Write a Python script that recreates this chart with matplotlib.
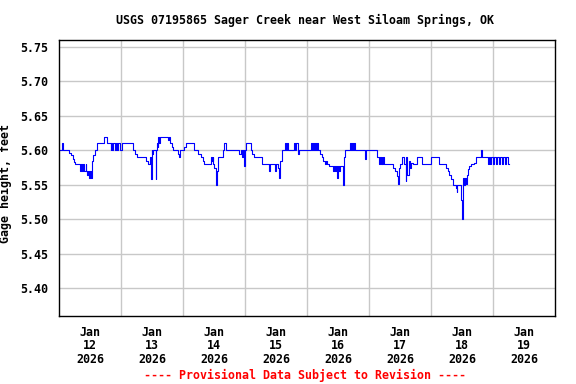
import matplotlib
matplotlib.use("Agg")
import matplotlib.pyplot as plt

# hours since Jan 12 2026 00:00, and gage height (ft) from that hour on (step data)
hours = [
    0.0, 1.3, 1.6, 4.0, 4.5, 5.3, 5.8, 6.2, 8.1, 8.5, 8.9, 9.4, 9.8, 10.3, 10.6,
    11.0, 11.4, 11.8, 12.1, 12.4, 12.8, 13.3, 13.8, 14.6, 17.5, 18.4, 20.0, 20.3,
    20.6, 21.0, 21.6, 22.0, 22.5, 23.0, 23.6, 24.5, 28.5, 29.5, 30.1, 33.7, 34.5,
    35.3, 35.6, 35.9, 36.1, 36.5, 37.4, 37.6, 37.9, 38.2, 38.4, 38.7, 39.0, 42.3,
    42.6, 43.0, 43.8, 44.2, 46.2, 46.5, 46.8, 48.5, 49.2, 52.1, 53.9, 55.0, 55.6,
    56.3, 58.8, 59.2, 59.5, 59.8, 60.1, 60.8, 61.2, 61.4, 63.4, 64.0, 64.7, 69.8,
    70.3, 70.8, 71.2, 71.6, 71.9, 72.4, 74.3, 74.9, 75.4, 78.6, 81.4, 81.8, 83.7,
    84.0, 84.6, 85.3, 85.6, 86.3, 87.5, 87.8, 88.2, 88.5, 91.1, 91.5, 91.8, 92.4,
    92.6, 93.0, 97.5, 97.9, 98.3, 98.7, 99.1, 99.6, 100.0, 100.4, 101.0, 101.7,
    102.3, 103.0, 103.4, 103.8, 104.6, 106.2, 106.5, 106.9, 107.3, 107.7, 108.0,
    108.4, 108.8, 110.0, 110.3, 110.7, 112.6, 113.0, 113.4, 113.8, 114.2, 114.6,
    118.3, 118.7, 123.2, 123.7, 124.1, 124.5, 124.9, 125.2, 125.6, 126.0, 129.4,
    130.1, 130.7, 131.3, 131.6, 132.0, 132.7, 133.7, 134.2, 134.5, 134.9, 135.3,
    135.7, 136.2, 137.2, 138.5, 140.4, 144.0, 147.2, 149.8, 150.5, 151.1, 151.8,
    152.4, 153.7, 154.1, 154.2, 155.6, 156.0, 156.3, 156.5, 156.8, 157.2, 157.6,
    157.8, 158.2, 158.8, 159.5, 160.5, 161.4, 163.4, 163.8, 166.0, 166.4, 166.9,
    167.3, 168.0, 168.3, 169.0, 169.4, 170.2, 170.6, 171.6, 172.0, 172.8, 173.2,
    173.8, 174.2,
]
gage_ft = [
    5.60, 5.61, 5.60, 5.596, 5.593, 5.588, 5.583, 5.58, 5.57, 5.58, 5.57, 5.58, 5.57, 5.58, 5.57,
    5.564, 5.57, 5.56, 5.57, 5.56, 5.585, 5.593, 5.60, 5.61, 5.62, 5.61, 5.60, 5.61,
    5.60, 5.61, 5.60, 5.61, 5.60, 5.61, 5.60, 5.61, 5.60, 5.595, 5.59, 5.585, 5.58,
    5.59, 5.558, 5.60, 5.595, 5.60, 5.558, 5.60, 5.61, 5.605, 5.62, 5.61, 5.62, 5.615,
    5.62, 5.61, 5.605, 5.60, 5.595, 5.59, 5.60, 5.605, 5.61, 5.60, 5.595, 5.59, 5.585,
    5.58, 5.59, 5.585, 5.59, 5.58, 5.575, 5.55, 5.57, 5.59, 5.60, 5.61, 5.60, 5.595,
    5.60, 5.59, 5.60, 5.578, 5.60, 5.61, 5.60, 5.595, 5.59, 5.58, 5.57, 5.58, 5.57,
    5.58, 5.575, 5.56, 5.585, 5.60, 5.61, 5.60, 5.61, 5.60, 5.61, 5.60, 5.61, 5.60,
    5.595, 5.60, 5.61, 5.60, 5.61, 5.60, 5.61, 5.60, 5.61, 5.60, 5.595, 5.59,
    5.585, 5.58, 5.585, 5.58, 5.578, 5.57, 5.578, 5.57, 5.578, 5.56, 5.578,
    5.57, 5.578, 5.55, 5.59, 5.60, 5.61, 5.60, 5.61, 5.60, 5.61, 5.60,
    5.588, 5.60, 5.59, 5.58, 5.59, 5.58, 5.59, 5.58, 5.59, 5.58, 5.575,
    5.57, 5.563, 5.552, 5.575, 5.58, 5.59, 5.58, 5.555, 5.59, 5.565, 5.585,
    5.575, 5.582, 5.58, 5.59, 5.58, 5.59, 5.58, 5.575, 5.57, 5.565, 5.558,
    5.55, 5.545, 5.54, 5.55, 5.528, 5.50, 5.555, 5.56, 5.55, 5.56, 5.552,
    5.565, 5.573, 5.577, 5.58, 5.582, 5.59, 5.60, 5.59, 5.58, 5.59, 5.58,
    5.59, 5.58, 5.59, 5.58, 5.59, 5.58, 5.59, 5.58, 5.59, 5.58, 5.59,
    5.58, 5.58,
]

day_labels = ["Jan\n12\n2026", "Jan\n13\n2026", "Jan\n14\n2026", "Jan\n15\n2026",
              "Jan\n16\n2026", "Jan\n17\n2026", "Jan\n18\n2026", "Jan\n19\n2026"]
y_ticks = [5.40, 5.45, 5.50, 5.55, 5.60, 5.65, 5.70, 5.75]

FONT = "DejaVu Sans Mono"
FS = 8.4

fig = plt.figure(figsize=(5.76, 3.84), dpi=100)
ax = fig.add_axes([59 / 576, 1 - 316 / 384, 496 / 576, 276 / 384])

ax.plot(hours, gage_ft, drawstyle="steps-post", color="#0000ff", linewidth=0.8)

ax.set_xlim(0, 192)
ax.set_ylim(5.36, 5.76)

# grid at midnights, labels at midday
ax.set_xticks([24 * i for i in range(1, 8)])
ax.set_xticklabels([])
ax.set_xticks([12 + 24 * i for i in range(8)], minor=True)
ax.set_xticklabels(day_labels, minor=True, fontfamily=FONT, fontweight="bold",
                   fontsize=FS, linespacing=1.05)
ax.tick_params(axis="x", which="both", length=0, pad=7)

ax.set_yticks(y_ticks)
ax.set_yticklabels([f"{v:.2f}" for v in y_ticks], fontfamily=FONT,
                   fontweight="bold", fontsize=FS)
ax.tick_params(axis="y", length=0, pad=8)

ax.grid(True, which="major", color="#c8c8c8", linewidth=1)
ax.set_axisbelow(True)
for s in ax.spines.values():
    s.set_color("black")
    s.set_linewidth(1)

ax.set_ylabel("Gage height, feet", fontfamily=FONT, fontweight="bold", fontsize=FS)
ax.yaxis.set_label_coords((12 - 59) / 496, 0.48)

fig.text(305 / 576, 1 - 20 / 384, "USGS 07195865 Sager Creek near West Siloam Springs, OK",
         ha="center", va="center", fontfamily=FONT, fontweight="bold", fontsize=FS)
fig.text(305 / 576, 1 - 375 / 384, "---- Provisional Data Subject to Revision ----",
         ha="center", va="center", fontfamily=FONT, fontweight="bold", fontsize=FS,
         color="red")

fig.savefig("out.png", dpi=100)
